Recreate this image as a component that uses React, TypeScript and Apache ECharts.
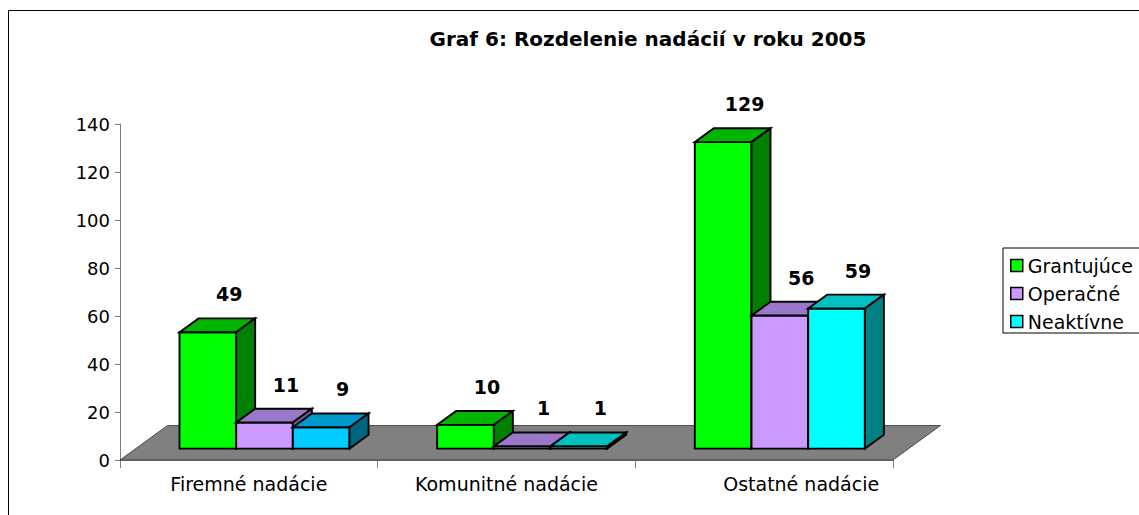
import React, { useEffect, useRef } from "react";
import * as echarts from "echarts";

// ---- data ----
const categories = ["Firemné nadácie", "Komunitné nadácie", "Ostatné nadácie"];
const seriesNames = ["Grantujúce", "Operačné", "Neaktívne"];
const grantujuce = [49, 10, 129];
const operacne = [11, 1, 56];
const neaktivne = [9, 1, 59];
const seriesValues = [grantujuce, operacne, neaktivne];
const yMin = 0;
const yMax = 140;
const yStep = 20;
const chartTitle = "Graf 6: Rozdelenie nadácií v roku 2005";

// ---- styles ----
const FONT = '"DejaVu Sans", Tahoma, Verdana, sans-serif';
const FACES = [
  { front: "#00FF00", top: "#00B400", side: "#008000" },
  { front: "#CC99FF", top: "#9A77C8", side: "#7A5CA0" },
  { front: "#00FFFF", top: "#00C0C0", side: "#008080" },
];
// Excel gave one point its own colour (Firemné / Neaktívne)
const POINT_FACES: Record<string, { front: string; top: string; side: string }> = {
  "2-0": { front: "#00CCFF", top: "#0099CC", side: "#006680" },
};
const FLOOR_DX = 47.5;
const FLOOR_DY = -34.5;
const FRONT_F = 0.33;
const BACK_F = 0.73;
const GROUP = 0.66;
const SHRINK = 0.99;

export default function App() {
  const ref = useRef<HTMLDivElement>(null);

  useEffect(() => {
    if (!ref.current) return;
    const chart = echarts.init(ref.current, null, { renderer: "svg" });

    const floorSeries: any = {
      type: "custom",
      name: "floor",
      silent: true,
      data: [[0, 0]],
      encode: { x: 0, y: 1 },
      renderItem: (params: any) => {
        const cs = params.coordSys;
        const l = cs.x;
        const r = cs.x + cs.width;
        const b = cs.y + cs.height;
        return {
          type: "polygon",
          shape: {
            points: [
              [l, b],
              [r, b],
              [r + FLOOR_DX, b + FLOOR_DY],
              [l + FLOOR_DX, b + FLOOR_DY],
            ],
          },
          style: { fill: "#808080", stroke: "#303030", lineWidth: 0.8 },
        };
      },
    };

    const barSeries = seriesNames.map((name, s) => ({
      type: "custom",
      name,
      itemStyle: { color: FACES[s].front, borderColor: "#000", borderWidth: 1.5 },
      data: seriesValues[s].map((v, i) => [i, v]),
      encode: { x: 0, y: 1 },
      renderItem: (params: any, api: any) => {
        const i = api.value(0);
        const v = api.value(1);
        const face = POINT_FACES[`${s}-${i}`] || FACES[s];
        const base = api.coord([i, 0]);
        const topP = api.coord([i, v]);
        const w = api.size([1, 0])[0];
        const bw = (w * GROUP) / 3;
        const x0 = base[0] - 1.5 * bw + s * bw + FLOOR_DX * FRONT_F;
        const x1 = x0 + bw;
        const yB = base[1] + FLOOR_DY * FRONT_F;
        const yT = yB - (base[1] - topP[1]) * SHRINK;
        const bdx = FLOOR_DX * (BACK_F - FRONT_F);
        const bdy = FLOOR_DY * (BACK_F - FRONT_F);
        const stroke = { stroke: "#000", lineWidth: 1.9, lineJoin: "miter" };
        return {
          type: "group",
          children: [
            {
              type: "polygon",
              shape: { points: [[x0, yT], [x1, yT], [x1, yB], [x0, yB]] },
              style: { fill: face.front, ...stroke },
            },
            {
              type: "polygon",
              shape: {
                points: [
                  [x0, yT],
                  [x1, yT],
                  [x1 + bdx, yT + bdy],
                  [x0 + bdx, yT + bdy],
                ],
              },
              style: { fill: face.top, ...stroke },
            },
            {
              type: "polygon",
              shape: {
                points: [
                  [x1, yT],
                  [x1 + bdx, yT + bdy],
                  [x1 + bdx, yB + bdy],
                  [x1, yB],
                ],
              },
              style: { fill: face.side, ...stroke },
            },
            {
              type: "text",
              style: {
                text: String(v),
                x: (x0 + x1) / 2 + 21.5,
                y: yT + bdy - 24,
                font: `bold 19px ${FONT}`,
                fill: "#000",
                align: "center",
                verticalAlign: "middle",
                textAlign: "center",
                textVerticalAlign: "middle",
              },
            },
          ],
        };
      },
    }));

    chart.setOption({
      animation: false,
      grid: { left: 120, right: 246, top: 124, bottom: 55, containLabel: false },
      graphic: [
        {
          type: "rect",
          silent: true,
          shape: { x: 8.5, y: 10.5, width: 1400, height: 800 },
          style: { fill: "none", stroke: "#000", lineWidth: 1 },
        },
        {
          type: "text",
          silent: true,
          style: {
            text: chartTitle,
            x: 648,
            y: 39,
            font: `bold 20px ${FONT}`,
            fill: "#000",
            align: "center",
            verticalAlign: "middle",
            textAlign: "center",
            textVerticalAlign: "middle",
          },
        },
      ],
      legend: {
        data: seriesNames,
        orient: "vertical",
        left: 1003,
        top: 248,
        padding: [7, 12, 1, 7],
        itemGap: 7,
        itemWidth: 12,
        itemHeight: 12,
        icon: "rect",
        borderColor: "#000",
        borderWidth: 1,
        backgroundColor: "#fff",
        itemStyle: { borderColor: "#000", borderWidth: 1.5 },
        textStyle: { fontFamily: FONT, fontSize: 19, color: "#000", lineHeight: 21, padding: [0, 0, 0, 0] },
      },
      xAxis: {
        type: "category",
        data: categories,
        axisLine: { show: true, lineStyle: { color: "#808080", width: 1 } },
        axisTick: { show: true, length: 8, lineStyle: { color: "#808080" } },
        axisLabel: {
          interval: 0,
          hideOverlap: false,
          color: "#000",
          fontFamily: FONT,
          fontSize: 19,
          margin: 14,
          formatter: (val: string, idx: number) => (idx === 2 ? `{o|${val}}` : `{n|${val}}`),
          rich: {
            n: { fontFamily: FONT, fontSize: 19, color: "#000" },
            o: { fontFamily: FONT, fontSize: 19, color: "#000", padding: [0, 0, 0, 74] },
          },
        },
        splitLine: { show: false },
      },
      yAxis: {
        type: "value",
        min: yMin,
        max: yMax,
        interval: yStep,
        axisLine: { show: true, lineStyle: { color: "#808080", width: 1 } },
        axisTick: { show: true, length: 5, lineStyle: { color: "#808080" } },
        axisLabel: { color: "#000", fontFamily: FONT, fontSize: 18, margin: 10 },
        splitLine: { show: false },
      },
      series: [floorSeries, ...barSeries],
    });

    return () => chart.dispose();
  }, []);

  return (
    <div
      ref={ref}
      style={{ position: "absolute", left: 0, top: 0, width: 1139, height: 515, background: "#fff" }}
    />
  );
}
